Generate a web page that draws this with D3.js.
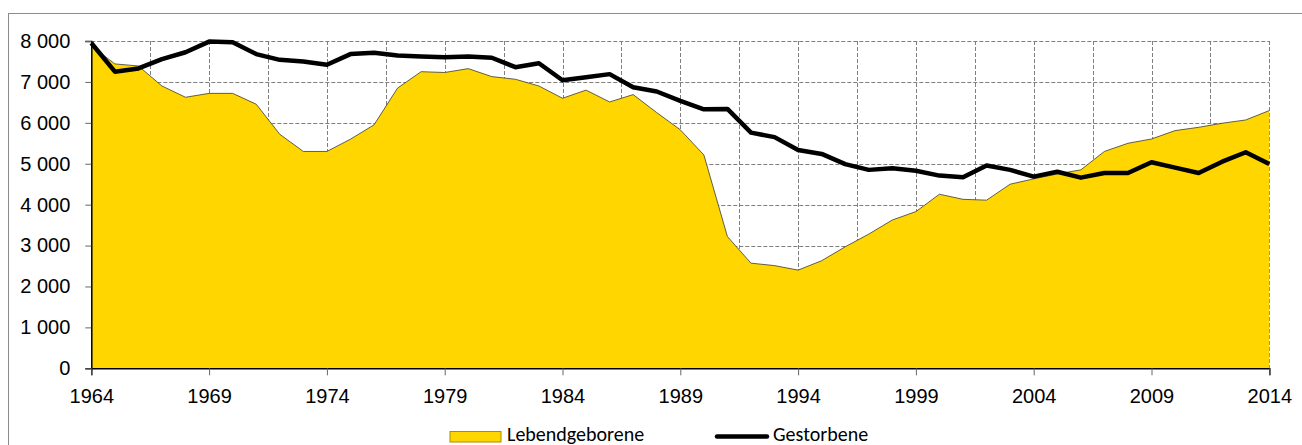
<!DOCTYPE html>
<html>
<head>
<meta charset="utf-8">
<script src="https://cdn.jsdelivr.net/npm/d3@7"></script>
<style>
  html, body { margin: 0; padding: 0; background: #fff; }
  svg { display: block; font-family: Carlito, Calibri, Lato, sans-serif; }
</style>
</head>
<body>
<svg id="chart" width="1302" height="445"></svg>
<script>
// Jahre 1964–2014
const years = d3.range(1964, 2015);

const lebendgeborene = [
  7880, 7440, 7390, 6900, 6625, 6720, 6720, 6455, 5720, 5300,
  5300, 5600, 5950, 6850, 7250, 7230, 7325, 7130, 7065, 6900,
  6600, 6800, 6510, 6690, 6250, 5830, 5215, 3220, 2570, 2510,
  2400, 2630, 2970, 3280, 3625, 3830, 4255, 4130, 4110, 4500,
  4630, 4750, 4850, 5300, 5500, 5605, 5810, 5890, 5990, 6070,
  6300
];

const gestorbene = [
  7950, 7250, 7330, 7555, 7725, 7985, 7970, 7680, 7540, 7500,
  7420, 7680, 7715, 7645, 7620, 7605, 7620, 7590, 7360, 7455,
  7040, 7115, 7190, 6870, 6765, 6535, 6330, 6340, 5760, 5650,
  5335, 5240, 4990, 4850, 4890, 4830, 4710, 4670, 4955, 4850,
  4685, 4805, 4660, 4775, 4775, 5035, 4905, 4775, 5050, 5280,
  4995
];

const yTicks = [0, 1000, 2000, 3000, 4000, 5000, 6000, 7000, 8000];
const xTickYears = [1964, 1969, 1974, 1979, 1984, 1989, 1994, 1999, 2004, 2009, 2014];
const xGridYears = d3.range(1966.5, 2014.1, 2.5);
const legendItems = ["Lebendgeborene", "Gestorbene"];

const svg = d3.select("#chart");

const plotLeft = 91.3, plotRight = 1269.3, plotTop = 41, plotBottom = 368.3;
const fontSize = 20;

const x = d3.scaleLinear().domain([1964, 2014]).range([plotLeft, plotRight]);
const y = d3.scaleLinear().domain([0, 8000]).range([plotBottom, plotTop]);

const fmt = d3.formatLocale({ decimal: ",", thousands: " ", grouping: [3], currency: ["", ""] }).format(",");

// Rahmen
svg.append("rect")
  .attr("x", 8.5).attr("y", 13.5)
  .attr("width", 1310).attr("height", 460)
  .attr("fill", "none")
  .attr("stroke", "#8c8c8c")
  .attr("stroke-width", 1);

// Gitter
const grid = svg.append("g").attr("class", "grid")
  .attr("stroke", "#7f7f7f")
  .attr("stroke-width", 1)
  .attr("stroke-dasharray", "4,2");

grid.selectAll("line.h")
  .data(yTicks.filter(d => d > 0))
  .join("line")
  .attr("class", "h")
  .attr("x1", plotLeft).attr("x2", plotRight)
  .attr("y1", d => Math.round(y(d)) + 0.5)
  .attr("y2", d => Math.round(y(d)) + 0.5);

grid.selectAll("line.v")
  .data(xGridYears)
  .join("line")
  .attr("class", "v")
  .attr("x1", d => Math.round(x(d)) + 0.5)
  .attr("x2", d => Math.round(x(d)) + 0.5)
  .attr("y1", plotTop).attr("y2", plotBottom);

const data = years.map((yr, i) => ({ year: yr, born: lebendgeborene[i], died: gestorbene[i] }));

// Fläche Lebendgeborene
svg.append("path")
  .datum(data)
  .attr("fill", "#FFD600")
  .attr("d", d3.area().x(d => x(d.year)).y0(y(0)).y1(d => y(d.born)));

svg.append("path")
  .datum(data)
  .attr("fill", "none")
  .attr("stroke", "#3a3a3a")
  .attr("stroke-width", 0.8)
  .attr("d", d3.line().x(d => x(d.year)).y(d => y(d.born)));

// Linie Gestorbene
svg.append("path")
  .datum(data)
  .attr("fill", "none")
  .attr("stroke", "#000")
  .attr("stroke-width", 4.5)
  .attr("stroke-linejoin", "round")
  .attr("d", d3.line().x(d => x(d.year)).y(d => y(d.died)));

// Achsen
const yAxis = svg.append("g")
  .attr("transform", `translate(${plotLeft},0)`)
  .call(d3.axisLeft(y).tickValues(yTicks).tickFormat(fmt).tickSize(6).tickPadding(15));
yAxis.select(".domain").attr("stroke", "#000").attr("stroke-width", 1.5);
yAxis.selectAll(".tick line").attr("stroke", "#666");
yAxis.selectAll("text").attr("font-size", fontSize).attr("fill", "#000");

const xAxis = svg.append("g")
  .attr("transform", `translate(0,${plotBottom})`)
  .call(d3.axisBottom(x).tickValues(xTickYears).tickFormat(d3.format("d")).tickSize(7));
xAxis.select(".domain").attr("stroke", "#000").attr("stroke-width", 1.5);
xAxis.selectAll(".tick line").attr("stroke", "#666");
xAxis.selectAll("text").attr("font-size", fontSize).attr("fill", "#000").attr("y", 35).attr("dy", 0);

// Legende
const legend = svg.append("g").attr("font-size", fontSize);

legend.append("rect")
  .attr("x", 450).attr("y", 431.5)
  .attr("width", 51).attr("height", 10.5)
  .attr("fill", "#FFD600")
  .attr("stroke", "#a89000")
  .attr("stroke-width", 1);
legend.append("text")
  .attr("x", 507).attr("y", 441)
  .text(legendItems[0]);

legend.append("line")
  .attr("x1", 717).attr("x2", 767)
  .attr("y1", 436.5).attr("y2", 436.5)
  .attr("stroke", "#000")
  .attr("stroke-width", 4.5)
  .attr("stroke-linecap", "round");
legend.append("text")
  .attr("x", 773).attr("y", 441)
  .text(legendItems[1]);
</script>
</body>
</html>
